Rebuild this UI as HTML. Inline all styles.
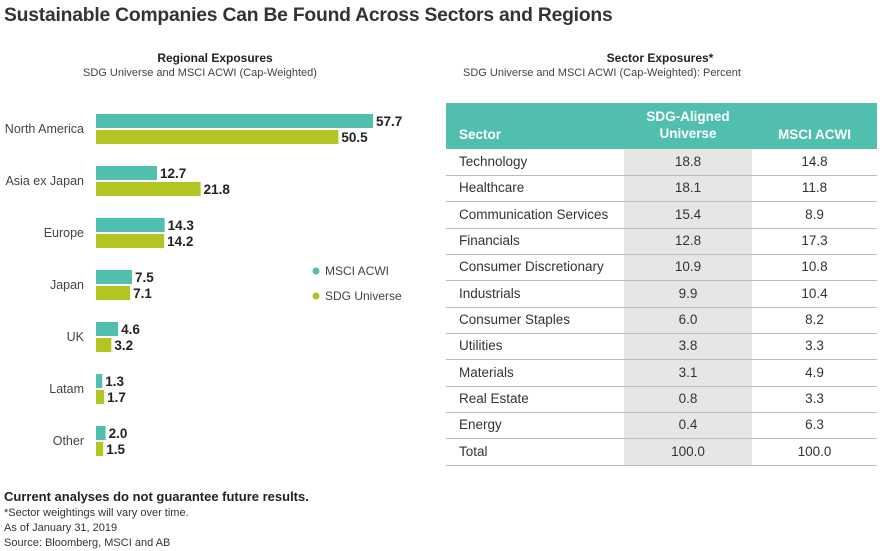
<!DOCTYPE html>
<html><head><meta charset="utf-8"><style>
body{margin:0;width:880px;height:551px;background:#fff;font-family:"Liberation Sans",sans-serif;color:#222;position:relative;overflow:hidden}
.a{position:absolute;white-space:nowrap}
</style></head><body>
<div class="a" style="left:4px;top:5px;font-size:19.3px;font-weight:bold;color:#333;letter-spacing:-0.2px">Sustainable Companies Can Be Found Across Sectors and Regions</div>
<div class="a" style="left:0;width:430px;text-align:center;top:51px;font-size:12px;font-weight:bold">Regional Exposures</div>
<div class="a" style="left:0;width:400px;text-align:center;top:67px;font-size:11px;color:#444">SDG Universe and MSCI ACWI (Cap-Weighted)</div>
<div class="a" style="left:440px;width:440px;text-align:center;top:51px;font-size:12px;font-weight:bold">Sector Exposures*</div>
<div class="a" style="left:440px;width:324px;text-align:center;top:67px;font-size:11px;color:#444">SDG Universe and MSCI ACWI (Cap-Weighted): Percent</div>
<svg id="chart" class="a" style="left:0;top:0" width="440" height="480"></svg>
<div id="tbl" class="a" style="left:446px;top:103px;width:431px;height:362px"></div>
<div class="a" style="left:4px;top:489px;font-size:13px;font-weight:bold">Current analyses do not guarantee future results.</div>
<div class="a" style="left:4px;top:506px;font-size:11px;line-height:15px;color:#333">*Sector weightings will vary over time.<br>As of January 31, 2019<br>Source: Bloomberg, MSCI and AB</div>
<script>
const regions=["North America","Asia ex Japan","Europe","Japan","UK","Latam","Other"];
const msci=[57.7,12.7,14.3,7.5,4.6,1.3,2.0];
const sdg=[50.5,21.8,14.2,7.1,3.2,1.7,1.5];
const sectors=["Technology","Healthcare","Communication Services","Financials","Consumer Discretionary","Industrials","Consumer Staples","Utilities","Materials","Real Estate","Energy","Total"];
const sdgSector=["18.8","18.1","15.4","12.8","10.9","9.9","6.0","3.8","3.1","0.8","0.4","100.0"];
const msciSector=["14.8","11.8","8.9","17.3","10.8","10.4","8.2","3.3","4.9","3.3","6.3","100.0"];
const NS="http://www.w3.org/2000/svg";
const svg=document.getElementById('chart');
const x=v=>v*4.8, x0=96, rowY=i=>114+i*52;
function mk(t,a){const e=document.createElementNS(NS,t);for(const k in a)e.setAttribute(k,a[k]);svg.appendChild(e);return e;}
regions.forEach((r,i)=>{
  const y=rowY(i);
  let t=mk('text',{x:84,y:y+19,'text-anchor':'end','font-size':12.5,fill:'#444'});t.textContent=r;
  
  
  let b=mk('rect',{x:x0,y:y,width:x(msci[i]),height:14,fill:'#50bfae'});
  
  
  let v=mk('text',{x:x0+x(msci[i])+3,y:y+12,'font-size':13.5,'font-weight':'bold',fill:'#222'});v.textContent=msci[i].toFixed(1);
  
  
  let b2=mk('rect',{x:x0,y:y+16,width:x(sdg[i]),height:14,fill:'#b3c523'});
  
  
  let v2=mk('text',{x:x0+x(sdg[i])+3,y:y+28,'font-size':13.5,'font-weight':'bold',fill:'#222'});v2.textContent=sdg[i].toFixed(1);
  
  
});
[["MSCI ACWI","#50bfae",271],["SDG Universe","#b3c523",296]].forEach(l=>{
  let c=mk('circle',{cx:316,cy:l[2],r:3.5,fill:l[1]});
  
  
  let t=mk('text',{x:325,y:l[2]+4,'font-size':12,fill:'#444'});t.textContent=l[0];
  
  
});
const tb=document.getElementById('tbl');
let h='<div style="position:absolute;left:0;top:0;width:431px;height:46px;background:#50bfae;color:#fff;font-weight:bold;font-size:13.5px">'+
'<div style="position:absolute;left:13px;top:24px">Sector</div>'+
'<div style="position:absolute;left:178px;width:128px;text-align:center;top:5px;line-height:17px">SDG-Aligned<br>Universe</div>'+
'<div style="position:absolute;left:306px;width:125px;text-align:center;top:24px">MSCI ACWI</div></div>'+
'<div style="position:absolute;left:178px;width:128px;top:46px;height:316px;background:#e6e6e6"></div>';
sectors.forEach((s,i)=>{
  const top=46+i*26.33;
  h+='<div style="position:absolute;left:0;width:431px;top:'+top+'px;height:26px;border-bottom:1px solid #bbb;font-size:13.5px;line-height:26px;color:#333">'+
  '<span style="position:absolute;left:13px">'+s+'</span>'+
  '<span style="position:absolute;left:178px;width:128px;text-align:center">'+sdgSector[i]+'</span>'+
  '<span style="position:absolute;left:306px;width:125px;text-align:center">'+msciSector[i]+'</span></div>';
});
tb.innerHTML=h;
</script>
</body></html>
